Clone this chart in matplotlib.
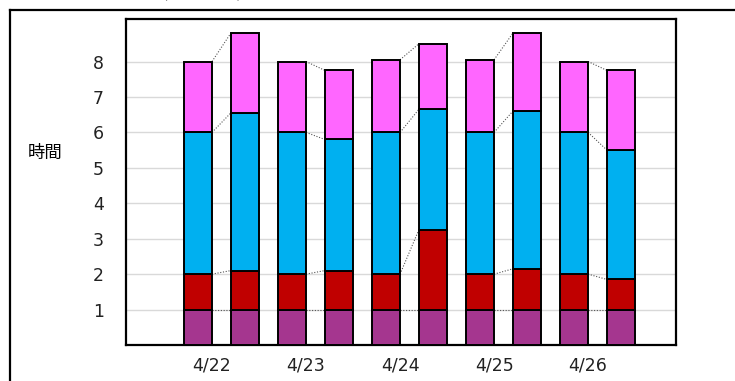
import numpy as np
import matplotlib
matplotlib.use("Agg")
import matplotlib.pyplot as plt
from matplotlib.lines import Line2D

plt.rcParams['font.family'] = ['DejaVu Sans', 'Noto Sans CJK JP']

dates = ["4/22", "4/23", "4/24", "4/25", "4/26"]
# two bars per day (plan / actual), stacked bottom -> top
purple = [1.0, 1.0, 1.0, 1.0, 1.0, 1.0, 1.0, 1.0, 1.0, 1.0]
red = [1.0, 1.1, 1.0, 1.1, 1.0, 2.25, 1.0, 1.15, 1.0, 0.85]
blue = [4.0, 4.45, 4.0, 3.7, 4.0, 3.4, 4.0, 4.45, 4.0, 3.65]
pink = [2.0, 2.25, 2.0, 1.95, 2.05, 1.85, 2.05, 2.2, 2.0, 2.25]

series = [purple, red, blue, pink]
colors = ["#A5368F", "#C00000", "#00B0F0", "#FF66FF"]

fig = plt.figure(figsize=(7.35, 3.81), dpi=100)
ax = fig.add_axes([126/735, 36/381, 550/735, 326/381])

x = np.arange(len(purple))
w = 0.6
bottom = np.zeros(len(x))
tops = []
for vals, c in zip(series, colors):
    vals = np.array(vals)
    ax.bar(x, vals, w, bottom=bottom, color=c, edgecolor="black", linewidth=1.4, zorder=3)
    bottom = bottom + vals
    tops.append(bottom.copy())

# series lines inside each pair
for t in tops:
    for i in range(0, len(x), 2):
        ax.plot([x[i] + w/2, x[i+1] - w/2], [t[i], t[i+1]], ls=(0, (1, 1.5)),
                color="#555555", lw=0.8, zorder=2)

ax.set_xlim(-1.53, 10.17)
ax.set_ylim(0, 9.2)
ax.set_yticks(range(1, 9))
ax.set_xticks(x[::2] + 0.3)
ax.set_xticklabels(dates)
ax.tick_params(axis="both", length=0, labelsize=12.5, colors="#222222")
ax.tick_params(axis="y", pad=16)
ax.tick_params(axis="x", pad=8)
ax.grid(axis="y", color="#D9D9D9", lw=1, zorder=0)
for s in ax.spines.values():
    s.set_linewidth(1.6)
    s.set_color("black")

ax.set_ylabel("時間", rotation=0, fontsize=12.5, family=['Noto Sans CJK JP', 'DejaVu Sans'])
ax.yaxis.set_label_coords(-0.147, 0.56)

# outer chart frame (partly cut off) and clipped title
fig.add_artist(Line2D([10/735, 10/735], [0, 1 - 10/381], color="black", lw=1.6))
fig.add_artist(Line2D([10/735, 1], [1 - 10/381, 1 - 10/381], color="black", lw=1.6))
fig.text(202/735, 1 - 1.5/381, "(計画比)", fontsize=16, fontweight="bold",
         ha="center", va="bottom", family=['Noto Sans CJK JP', 'DejaVu Sans'])

fig.savefig("out.png", dpi=100)
